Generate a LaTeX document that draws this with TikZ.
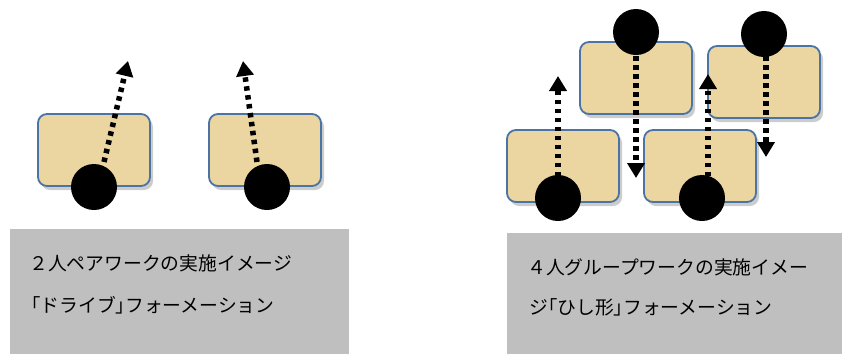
\documentclass[tikz,border=0pt]{standalone}
\usepackage{fontspec}
\setmainfont{Noto Sans CJK JP}
\usetikzlibrary{arrows.meta,shadows}

\definecolor{deskfill}{HTML}{EBD5A0}
\definecolor{deskline}{HTML}{4A74A4}
\definecolor{panelgray}{HTML}{BFBFBF}

\tikzset{
  desk/.style={rectangle, rounded corners=9pt, draw=deskline, line width=1.8pt,
    fill=deskfill, minimum width=112pt, minimum height=72pt,
    drop shadow={opacity=0.4, shadow xshift=3pt, shadow yshift=-4pt}},
  person/.style={circle, fill=black, minimum size=46pt, inner sep=0pt},
  move/.style={line width=5.5pt, dash pattern=on 4.5pt off 4.5pt,
    -{Triangle[width=17pt,length=15pt]}},
  panel/.style={rectangle, fill=panelgray, anchor=north west, inner sep=0pt},
  caption/.style={anchor=west, inner sep=0pt, font=\fontsize{18.8}{20}\selectfont}
}

\begin{document}
\begin{tikzpicture}[x=1pt, y=-1pt]
            \useasboundingbox (0, 0) rectangle (842, 354);

            % pair work
            \node (d1) at (94, 150) [desk] {};
            \node (d2) at (265, 150) [desk] {};
            \coordinate (t1) at (128, 61);
            \coordinate (t2) at (243, 61);
            \draw[move] (104, 162) -- (t1);
            \draw[move] (257, 162) -- (t2);
            \node (p1) at (94, 187) [person] {};
            \node (p2) at (267, 187) [person] {};

            % group work
            \node (d3) at (636, 78) [desk] {};
            \node (d4) at (764, 82) [desk] {};
            \node (d5) at (563, 166) [desk] {};
            \node (d6) at (700, 166) [desk] {};
            \coordinate (t3) at (558, 76);
            \coordinate (t4) at (636, 178);
            \coordinate (t5) at (708, 74);
            \coordinate (t6) at (766, 157);
            \draw[move] (558, 176) -- (t3);
            \draw[move] (636, 56) -- (t4);
            \draw[move] (708, 176) -- (t5);
            \draw[move] (766, 56) -- (t6);
            \node (p3) at (636, 32) [person] {};
            \node (p4) at (764, 34) [person] {};
            \node (p5) at (558, 198) [person] {};
            \node (p6) at (702, 198) [person] {};

            % captions
            \node (g1) at (10, 229) [panel, minimum width=339pt, minimum height=125pt] {};
            \node (g2) at (507, 233) [panel, minimum width=335pt, minimum height=121pt] {};
            \node (l1) at (29, 263) [caption] {２人ペアワークの実施イメージ};
            \node (l2) at (31, 305) [caption] {｢ドライブ｣フォーメーション};
            \node (l3) at (527, 267) [caption] {４人グループワークの実施イメー};
            \node (l4) at (529, 307) [caption] {ジ｢ひし形｣フォーメーション};

        \end{tikzpicture}
\end{document}
